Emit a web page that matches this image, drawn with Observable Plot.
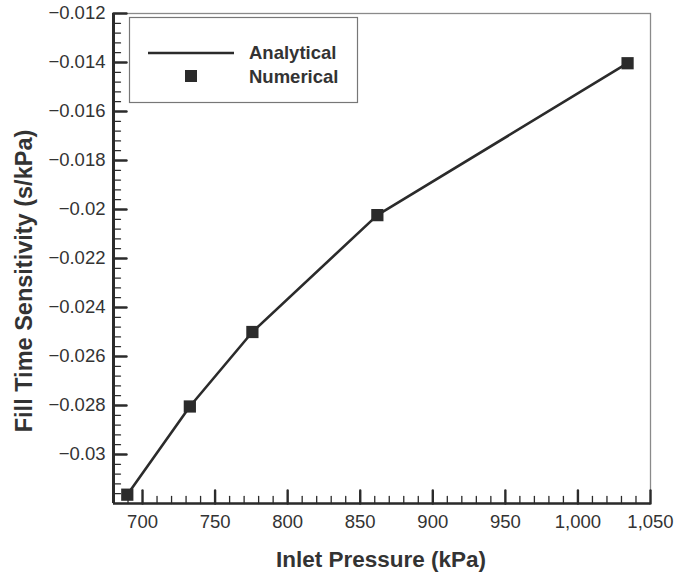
<!DOCTYPE html>
<html>
<head>
<meta charset="utf-8">
<script src="https://cdn.jsdelivr.net/npm/d3@7"></script>
<script src="https://cdn.jsdelivr.net/npm/@observablehq/plot@0.6"></script>
<style>
  body { margin: 0; background: #fff; }
  #chart { position: relative; width: 679px; height: 578px; font-family: "Liberation Sans", Arial, sans-serif; color: #333; }
  #chart > svg { position: absolute; left: 0; top: 0; }
  #overlay { pointer-events: none; }
</style>
</head>
<body>
<div id="chart"></div>
<script>
// Inlet pressure (kPa) at the five design points
const pressure = [689.5, 732.6, 775.7, 861.8, 1034.2];
// Fill-time sensitivity (s/kPa): closed-form result and simulation
const analytical = [-0.03164, -0.02804, -0.02500, -0.02023, -0.01403];
const numerical  = [-0.03164, -0.02804, -0.02500, -0.02023, -0.01403];

// Axis ticks
const xMajor = [700, 750, 800, 850, 900, 950, 1000, 1050];
const xMinor = d3.range(690, 1050, 10).filter(v => v % 50 !== 0);
const yMajor = [-0.030, -0.028, -0.026, -0.024, -0.022, -0.020, -0.018, -0.016, -0.014, -0.012];
const yMinor = d3.range(-316, -120, 4).filter(v => v % 20 !== 0).map(v => v / 10000);

const xTitle = "Inlet Pressure (kPa)";
const yTitle = "Fill Time Sensitivity (s/kPa)";
const seriesNames = ["Analytical", "Numerical"];

const ink = "#2b2b2b";
const lineRows = pressure.map((p, i) => ({p, s: analytical[i]}));
const dotRows = pressure.map((p, i) => ({p, s: numerical[i]}));

// Tick shapes that point into the plot area
const tickUp = {draw(ctx, l) { ctx.moveTo(0, 0); ctx.lineTo(0, -l); }};
const tickRight = {draw(ctx, l) { ctx.moveTo(0, 0); ctx.lineTo(l, 0); }};

const innerTicksX = (values, length, strokeWidth) =>
  Plot.vector(values, {x: d => d, frameAnchor: "bottom", anchor: "start", length, shape: tickUp, stroke: ink, strokeWidth});
const innerTicksY = (values, length, strokeWidth) =>
  Plot.vector(values, {y: d => d, frameAnchor: "left", anchor: "start", length, shape: tickRight, stroke: ink, strokeWidth});

const chart = Plot.plot({
  width: 679,
  height: 578,
  marginLeft: 113,
  marginRight: 29,
  marginTop: 13,
  marginBottom: 75,
  style: {fontFamily: "'Liberation Sans', Arial, sans-serif", color: "#333", background: "#fff"},
  x: {domain: [680, 1050], label: null},
  y: {domain: [-0.032, -0.012], label: null},
  marks: [
    Plot.frame({stroke: "#8a8a8a", strokeWidth: 1.3}),
    Plot.axisX(xMajor, {tickSize: 0, tickPadding: 11, tickFormat: d3.format(","), fontSize: 18.5, fill: "#333"}),
    Plot.axisY(yMajor, {tickSize: 0, tickPadding: 8, tickFormat: d3.format(".3~f"), fontSize: 18.5, fill: "#333"}),
    innerTicksX(xMinor, 7, 1.3),
    innerTicksX(xMajor, 13, 2.4),
    innerTicksY(yMinor, 7, 1.3),
    innerTicksY(yMajor, 13, 2.4),
    Plot.ruleX([680], {stroke: ink, strokeWidth: 3}),
    Plot.ruleY([-0.032], {stroke: ink, strokeWidth: 2.6}),
    Plot.line(lineRows, {x: "p", y: "s", stroke: ink, strokeWidth: 2.6}),
    Plot.dot(dotRows, {x: "p", y: "s", symbol: "square", r: 6.9, fill: ink, stroke: "none"})
  ]
});

const host = document.getElementById("chart");
host.appendChild(chart);

// Axis titles and the legend box, drawn on top of the plot
const over = d3.select(host).append("svg")
  .attr("id", "overlay")
  .attr("width", 679).attr("height", 578)
  .attr("font-family", "'Liberation Sans', Arial, sans-serif")
  .attr("fill", "#333");

over.append("text")
  .attr("x", 381).attr("y", 567)
  .attr("text-anchor", "middle")
  .attr("font-weight", "bold").attr("font-size", 22.5)
  .text(xTitle);

over.append("text")
  .attr("transform", "translate(32,281) rotate(-90)")
  .attr("text-anchor", "middle")
  .attr("font-weight", "bold").attr("font-size", 23.5)
  .text(yTitle);

const legend = over.append("g");
legend.append("rect")
  .attr("x", 129.5).attr("y", 17.5).attr("width", 228).attr("height", 85)
  .attr("fill", "#fff").attr("stroke", "#777").attr("stroke-width", 1.2);
legend.append("line")
  .attr("x1", 148).attr("x2", 234).attr("y1", 53).attr("y2", 53)
  .attr("stroke", ink).attr("stroke-width", 2.6);
legend.append("rect")
  .attr("x", 185).attr("y", 70).attr("width", 12).attr("height", 12)
  .attr("fill", ink);
legend.selectAll("text.name").data(seriesNames).join("text")
  .attr("class", "name")
  .attr("x", 249).attr("y", (d, i) => 59 + i * 24)
  .attr("font-weight", "bold").attr("font-size", 18.5)
  .text(d => d);
</script>
</body>
</html>
